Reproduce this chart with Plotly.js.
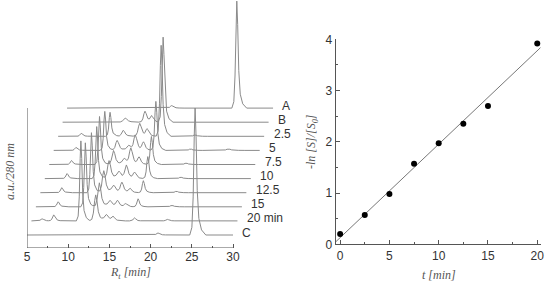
<!DOCTYPE html>
<html><head><meta charset="utf-8">
<script src="https://cdn.plot.ly/plotly-3.0.1.min.js"></script>
<style>html,body{margin:0;padding:0;background:#fff}#chart{width:545px;height:282px}</style>
</head><body><div id="chart"></div>
<script>
// ---------- Left panel: HPLC chromatograms (retention time [min], signal [a.u.]) ----------
// trace order from bottom to top
const traceLabels = ['C', '20 min', '15', '12.5', '10', '7.5', '5', '2.5', 'B', 'A'];
// peaks: [retention time, height, relative width]
const peaksC   = [[20.9, 2, 1.5], [25.4, 127, 1.3]];
const peaks20  = [[6.3, 2, 1.5], [7.7, 6, 1.3], [11.0, 80, 1.1], [12.8, 26, 1.6], [14.1, 6, 2.0], [14.9, 4, 1.5], [17.5, 3, 1.2], [21.5, 1.5, 1.5]];
const peaks15  = [[7.7, 5, 1.3], [11.0, 64, 1.1], [12.7, 24, 1.6], [14.0, 6, 2.0], [14.9, 6, 1.6], [15.9, 3, 1.5], [17.4, 8, 1.2], [21.5, 1.5, 1.5]];
const peaks125 = [[7.6, 5, 1.3], [11.2, 60, 1.1], [12.7, 22, 1.6], [13.9, 7, 2.0], [14.9, 10, 1.6], [15.9, 4, 1.5], [17.5, 12, 1.2], [21.5, 1.5, 1.5]];
const peaks10  = [[7.7, 5, 1.3], [11.3, 52, 1.1], [12.8, 18, 1.6], [14.0, 7, 2.0], [14.9, 13, 1.6], [15.9, 6, 1.5], [17.5, 22, 1.2], [21.5, 1.5, 1.5]];
const peaks75  = [[7.7, 4, 1.3], [11.1, 48, 1.1], [12.8, 14, 1.6], [14.1, 6, 2.0], [14.9, 16, 1.6], [15.9, 7, 1.5], [17.4, 28, 1.2], [21.6, 1.5, 1.5]];
const peaks5   = [[7.7, 3, 1.3], [11.2, 39, 1.1], [12.7, 10, 1.6], [14.1, 5, 2.0], [14.9, 15, 1.6], [15.9, 8, 1.5], [17.4, 49, 1.2], [21.6, 1.5, 1.5], [26.2, 1.5, 2.0]];
const peaks25  = [[7.8, 3, 1.3], [11.3, 24, 1.1], [12.9, 6, 1.6], [14.9, 13, 1.6], [15.8, 7, 1.5], [17.5, 91, 1.2], [21.6, 1.5, 1.5]];
const peaksB   = [[12.6, 4, 2.0], [15.0, 11, 1.5], [15.8, 6, 1.5], [17.2, 85, 1.2]];
const peaksA   = [[17.7, 2.5, 1.5], [25.6, 107, 1.2]];
const peakTables = [peaksC, peaks20, peaks15, peaks125, peaks10, peaks75, peaks5, peaks25, peaksB, peaksA];
const rtStart = 5, rtEnd = 30;

// ---------- Right panel: kinetics ----------
const timeMin = [0, 2.5, 5, 7.5, 10, 12.5, 15, 20];
const lnRatio = [0.20, 0.57, 0.98, 1.57, 1.97, 2.35, 2.70, 3.92];

// ---------- drawing style ----------
const stackDx = 0.54;   // horizontal shift per stacked trace (min)
const stackDy = 14.1;   // vertical shift per stacked trace (a.u.)
// peak outline (relative time offset, relative height)
const peakShape = [[-0.5,0],[-0.3,0.06],[-0.18,0.3],[-0.08,0.78],[0,1],[0.09,0.78],[0.2,0.35],[0.35,0.13],[0.6,0.04],[1.0,0]];
const traceColor = '#8a8a8a', axisColor = '#555', textColor = '#333';

function peakValue(p, t) {
  const u = (t - p[0]) / p[2];
  const n = peakShape.length;
  if (u <= peakShape[0][0] || u >= peakShape[n-1][0]) return 0;
  for (let k = 1; k < n; k++) {
    if (u <= peakShape[k][0]) {
      const a = peakShape[k-1], b = peakShape[k];
      return p[1] * (a[1] + (b[1]-a[1]) * (u - a[0]) / (b[0]-a[0]));
    }
  }
  return 0;
}
function chromatogram(peaks) {
  const set = new Set([rtStart, rtEnd]);
  peaks.forEach(p => peakShape.forEach(s => set.add(+(p[0] + s[0]*p[2]).toFixed(4))));
  const ts = [...set].filter(t => t >= rtStart && t <= rtEnd).sort((a,b) => a-b);
  return ts.map(t => [t, peaks.reduce((acc,p) => acc + peakValue(p,t), 0)]);
}

const data = [];
const annotations = [];
peakTables.forEach((peaks, i) => {
  const pts = chromatogram(peaks);
  data.push({
    x: pts.map(p => p[0] + i*stackDx), y: pts.map(p => p[1] + i*stackDy),
    xaxis: 'x', yaxis: 'y', mode: 'lines', type: 'scatter',
    line: {color: traceColor, width: 1}, hoverinfo: 'skip', showlegend: false
  });
  annotations.push({
    x: rtEnd + i*stackDx + 0.9, y: i*stackDy + 2.5, xref: 'x', yref: 'y',
    text: traceLabels[i], showarrow: false, xanchor: 'left', yanchor: 'middle',
    font: {family: 'Liberation Sans, Arial, sans-serif', size: 12, color: textColor}
  });
});

// linear fit through the kinetic points (least squares)
const n = timeMin.length;
const mx = timeMin.reduce((a,b)=>a+b,0)/n, my = lnRatio.reduce((a,b)=>a+b,0)/n;
let sxy = 0, sxx = 0;
for (let k = 0; k < n; k++) { sxy += (timeMin[k]-mx)*(lnRatio[k]-my); sxx += (timeMin[k]-mx)**2; }
const slope = sxy/sxx, icpt = my - slope*mx;
const fitX = [-0.45, 20.35];
data.push({x: fitX, y: fitX.map(t => icpt + slope*t), xaxis: 'x2', yaxis: 'y2', mode: 'lines',
  line: {color: '#777', width: 1}, hoverinfo: 'skip', showlegend: false});
data.push({x: timeMin, y: lnRatio, xaxis: 'x2', yaxis: 'y2', mode: 'markers',
  marker: {color: '#000', size: 6}, showlegend: false, cliponaxis: false});

const tickFont = {family: 'Liberation Sans, Arial, sans-serif', size: 12, color: textColor};
const titleFont = {family: 'Liberation Serif, Times New Roman, serif', size: 12, color: '#555'};

annotations.push(
  {text: '<i>R<sub>t</sub> [min]</i>', x: 17.5, xref: 'x', y: 1 - 273/282, yref: 'paper',
   xanchor: 'center', yanchor: 'middle', showarrow: false, font: titleFont},
  {text: '<i>a.u./280 nm</i>', x: 10/545, xref: 'paper', y: 1 - 172/282, yref: 'paper', textangle: -90,
   xanchor: 'center', yanchor: 'middle', showarrow: false, font: titleFont},
  {text: '<i>t [min]</i>', x: 10, xref: 'x2', y: 1 - 275/282, yref: 'paper',
   xanchor: 'center', yanchor: 'middle', showarrow: false, font: titleFont},
  {text: '<i>-ln [S]/[S<sub>0</sub>]</i>', x: 312/545, xref: 'paper', y: 1 - 142/282, yref: 'paper', textangle: -90,
   xanchor: 'center', yanchor: 'middle', showarrow: false, font: titleFont}
);

const layout = {
  width: 545, height: 282, margin: {l: 0, r: 0, t: 0, b: 0},
  paper_bgcolor: '#fff', plot_bgcolor: 'rgba(0,0,0,0)', showlegend: false,
  xaxis: {domain: [27/545, (27 + 31.5*8.24)/545], range: [5, 36.5], anchor: 'y',
    tickvals: [5, 10, 15, 20, 25, 30], ticks: 'inside', ticklen: 4, tickcolor: axisColor,
    minor: {tickvals: [7.5, 12.5, 17.5, 22.5, 27.5], ticks: 'inside', ticklen: 2, tickcolor: axisColor},
    showline: false, showgrid: false, zeroline: false, tickfont: tickFont},
  yaxis: {domain: [34/282, 1], range: [-13, 235], anchor: 'x', visible: false},
  xaxis2: {domain: [335.7/545, 540.7/545], range: [-0.45, 20.35], anchor: 'y2',
    tickvals: [0, 5, 10, 15, 20], ticks: 'inside', ticklen: 4, tickcolor: axisColor,
    minor: {dtick: 2.5, tick0: 0, ticks: 'inside', ticklen: 2, tickcolor: axisColor},
    showline: true, linecolor: axisColor, linewidth: 1, showgrid: false, zeroline: false, tickfont: tickFont},
  yaxis2: {domain: [1 - 244.3/282, 1 - 39.3/282], range: [0, 4], anchor: 'x2',
    tickvals: [0, 1, 2, 3, 4], ticks: 'inside', ticklen: 4, tickcolor: axisColor,
    minor: {dtick: 0.5, tick0: 0, ticks: 'inside', ticklen: 2, tickcolor: axisColor},
    showline: true, linecolor: axisColor, linewidth: 1, showgrid: false, zeroline: false, tickfont: tickFont},
  shapes: [
    {type: 'line', xref: 'x', yref: 'y', x0: 5, x1: 30, y0: -13, y1: -13, line: {color: axisColor, width: 1}},
    {type: 'line', xref: 'x', yref: 'y', x0: 5, x1: 5, y0: -13, y1: 127, line: {color: axisColor, width: 1}}
  ],
  annotations: annotations
};
Plotly.newPlot('chart', data, layout, {staticPlot: true, displayModeBar: false});
</script>
</body></html>
